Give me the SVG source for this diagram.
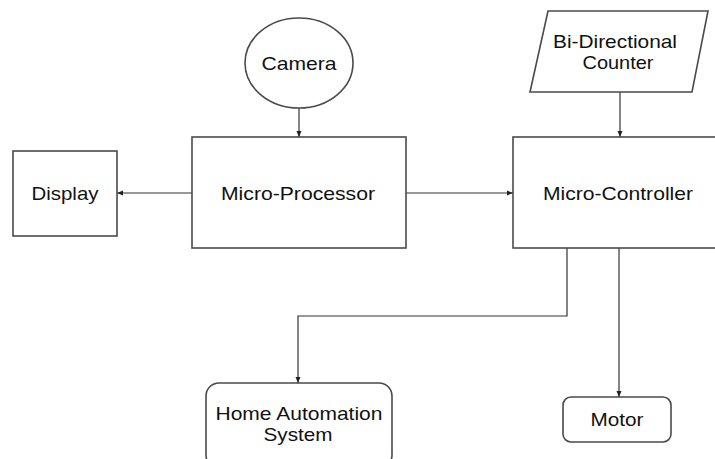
<svg xmlns="http://www.w3.org/2000/svg" width="715" height="459" viewBox="0 0 715 459">
<defs>
<marker id="ah" markerWidth="8" markerHeight="8" refX="7" refY="4" orient="auto" markerUnits="userSpaceOnUse">
<path d="M1,1.5 L7,4 L1,6.5 Z" fill="#222"/>
</marker>
<style>
.n{fill:#fff;stroke:#4a4a4a;stroke-width:1.6}
.t{font-family:"Liberation Sans",Arial,sans-serif;font-size:18.5px;fill:#111;text-anchor:middle}
.c{fill:none;stroke:#333;stroke-width:1.2;marker-end:url(#ah)}
</style>
</defs>
<rect width="715" height="459" fill="#fff"/>
<g id="connectors">
<path class="c" d="M299,108 V137"/>
<path class="c" d="M620,92 V137"/>
<path class="c" d="M192,193 H117"/>
<path class="c" d="M406,193 H513"/>
<path class="c" d="M567,248 V316 H298 V383"/>
<path class="c" d="M619,248 V397"/>
</g>
<g id="camera">
<ellipse class="n" cx="299" cy="63" rx="54" ry="45"/>
<text class="t" x="299" y="70" textLength="75" lengthAdjust="spacingAndGlyphs">Camera</text>
</g>
<g id="counter">
<polygon class="n" points="548,11 708,11 692,92 530,92"/>
<text class="t" x="615" y="48" textLength="124" lengthAdjust="spacingAndGlyphs">Bi-Directional</text>
<text class="t" x="618" y="69" textLength="71" lengthAdjust="spacingAndGlyphs">Counter</text>
</g>
<g id="display">
<rect class="n" x="13" y="151" width="104" height="85"/>
<text class="t" x="65" y="200" textLength="67" lengthAdjust="spacingAndGlyphs">Display</text>
</g>
<g id="microprocessor">
<rect class="n" x="192" y="137" width="214" height="111"/>
<text class="t" x="298" y="200" textLength="154" lengthAdjust="spacingAndGlyphs">Micro-Processor</text>
</g>
<g id="microcontroller">
<rect class="n" x="513" y="137" width="210" height="111"/>
<text class="t" x="618" y="200" textLength="150" lengthAdjust="spacingAndGlyphs">Micro-Controller</text>
</g>
<g id="homeautomation">
<rect class="n" x="206" y="383" width="186" height="85" rx="13"/>
<text class="t" x="299" y="420" textLength="167" lengthAdjust="spacingAndGlyphs">Home Automation</text>
<text class="t" x="298" y="441" textLength="69" lengthAdjust="spacingAndGlyphs">System</text>
</g>
<g id="motor">
<rect class="n" x="563" y="397" width="108" height="45" rx="8"/>
<text class="t" x="617" y="426" textLength="53" lengthAdjust="spacingAndGlyphs">Motor</text>
</g>
</svg>
